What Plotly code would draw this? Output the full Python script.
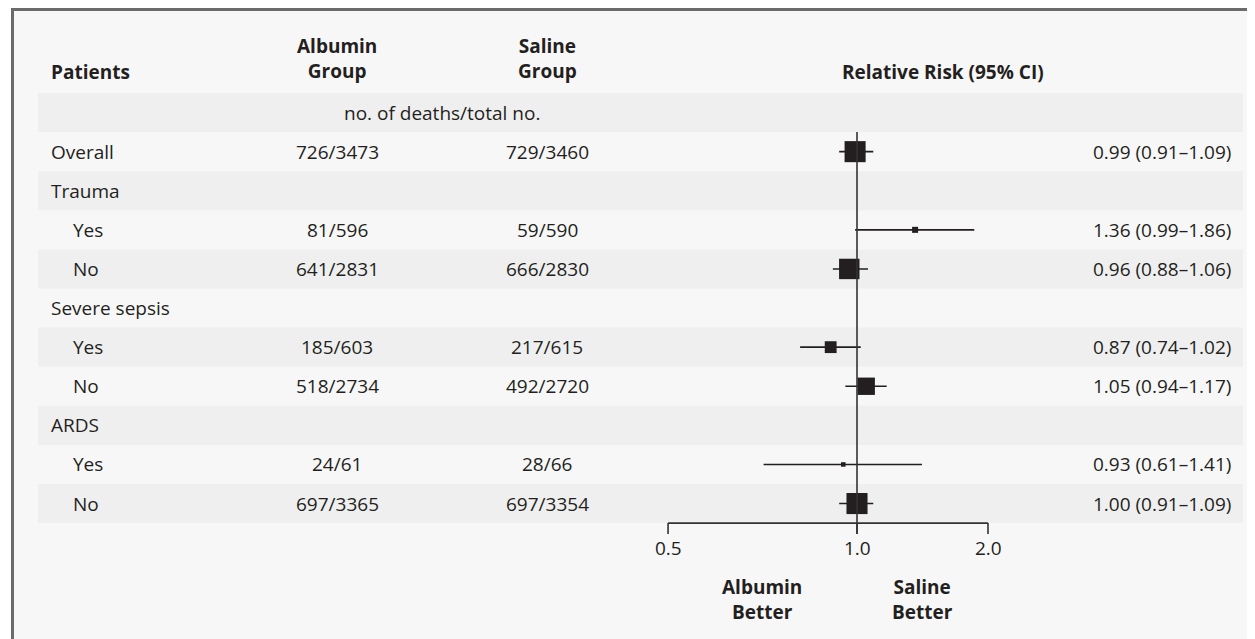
import numpy as np
import plotly.graph_objects as go

# ---------------- data ----------------
row_labels = ["Overall", "Trauma", "Yes", "No", "Severe sepsis", "Yes", "No", "ARDS", "Yes", "No"]
row_is_sub = [False, False, True, True, False, True, True, False, True, True]
albumin_deaths = ["726/3473", "", "81/596", "641/2831", "", "185/603", "518/2734", "", "24/61", "697/3365"]
saline_deaths = ["729/3460", "", "59/590", "666/2830", "", "217/615", "492/2720", "", "28/66", "697/3354"]
rel_risk = [0.99, None, 1.36, 0.96, None, 0.87, 1.05, None, 0.93, 1.00]
ci_low = [0.91, None, 0.99, 0.88, None, 0.74, 0.94, None, 0.61, 0.91]
ci_high = [1.09, None, 1.86, 1.06, None, 1.02, 1.17, None, 1.41, 1.09]
# axis ticks as drawn in the source figure (left end of the printed axis is labelled 0.5)
tick_values = [0.368, 1.0, 2.0]
tick_labels = ["0.5", "1.0", "2.0"]

# ---------------- layout constants ----------------
OFF = 8                      # page body margin (px)
W, H = 1255 - OFF, 639 - OFF # figure size so that it fits the window
ROW_TOP = 93.0               # page px of top of first shaded row
ROW_H = 39.1                 # px per row
PX_PER_LN = 189.0            # px per natural-log unit on the RR axis
X_ONE = 857.0                # page px of RR = 1
TXT = "#231f20"
FONT = "Open Sans"
FS = 19

def py(px):
    """page pixel row -> y data units (row index)"""
    return (px - ROW_TOP) / ROW_H - 0.5

def pxx(px):
    """page pixel column -> paper x"""
    return (px - OFF) / W

ln10 = np.log(10)
x_range = [-(X_ONE - OFF) / (PX_PER_LN * ln10), (W - (X_ONE - OFF)) / (PX_PER_LN * ln10)]
y_range = [py(OFF + H), py(OFF)]

fig = go.Figure()

# forest plot points
rows, xs, lo_e, hi_e, sizes = [], [], [], [], []
for i, (r, lo, hi) in enumerate(zip(rel_risk, ci_low, ci_high)):
    if r is None:
        continue
    rows.append(i + 1)
    xs.append(r)
    lo_e.append(r - lo)
    hi_e.append(hi - r)
    sizes.append(3.8 / np.log(hi / lo))

fig.add_trace(go.Scatter(
    x=xs, y=rows, mode="markers",
    marker=dict(symbol="square", size=sizes, color=TXT, opacity=1, line=dict(width=0)),
    error_x=dict(type="data", symmetric=False, array=hi_e, arrayminus=lo_e,
                 color=TXT, thickness=1.6, width=0),
    hoverinfo="skip", showlegend=False,
))

shapes = []
# frame
shapes.append(dict(type="rect", xref="paper", yref="paper",
                   x0=pxx(12.5), x1=1.05, y0=-0.05, y1=1 - 1.5 / H,
                   line=dict(color="#6b6b6b", width=3), fillcolor="#f7f7f7", layer="below"))
# shaded bands
n_rows = len(row_labels) + 1
for i in range(0, n_rows, 2):
    shapes.append(dict(type="rect", xref="paper", yref="y",
                       x0=pxx(38), x1=pxx(1243), y0=i - 0.5, y1=i + 0.5,
                       line=dict(width=0), fillcolor="#efefef", layer="below"))
# reference line at RR = 1
tick_len = 11.0 / ROW_H
axis_y = n_rows - 0.5
shapes.append(dict(type="line", xref="x", yref="y", x0=1.0, x1=1.0, y0=0.5, y1=axis_y + tick_len,
                   line=dict(color="#333333", width=1.6)))
# axis line and ticks
shapes.append(dict(type="line", xref="x", yref="y", x0=tick_values[0], x1=tick_values[-1],
                   y0=axis_y, y1=axis_y, line=dict(color="#333333", width=1.6)))
for tv in tick_values:
    shapes.append(dict(type="line", xref="x", yref="y", x0=tv, x1=tv,
                       y0=axis_y, y1=axis_y + tick_len, line=dict(color="#333333", width=1.6)))

ann = []
def add(text, x, y, xanchor="center", xref="paper", bold=False, size=FS):
    ann.append(dict(text=f"<b>{text}</b>" if bold else text, x=x, y=y, xref=xref, yref="y",
                    xanchor=xanchor, yanchor="middle", showarrow=False,
                    font=dict(family=FONT, size=size, color=TXT)))

# headers
add("Patients", pxx(49), py(72), xanchor="left", bold=True)
add("<b>Albumin</b><br><b>Group</b>", pxx(337), py(58.5))
add("<b>Saline</b><br><b>Group</b>", pxx(547), py(58.5))
add("Relative Risk (95% CI)", pxx(943), py(72), bold=True)
add("no. of deaths/total no.", pxx(442), 0)

# table rows
for i, lab in enumerate(row_labels):
    y = i + 1
    add(lab, pxx(71 if row_is_sub[i] else 49), y, xanchor="left")
    if albumin_deaths[i]:
        add(albumin_deaths[i], pxx(337), y)
    if saline_deaths[i]:
        add(saline_deaths[i], pxx(547), y)
    if rel_risk[i] is not None:
        add(f"{rel_risk[i]:.2f} ({ci_low[i]:.2f}\u2013{ci_high[i]:.2f})", pxx(1233), y, xanchor="right")

# tick labels (annotation x on a log axis is given in log10 units)
for tv, tl in zip(tick_values, tick_labels):
    add(tl, np.log10(tv), py(548), xref="x")

# direction labels
add("<b>Albumin</b><br><b>Better</b>", pxx(762), py(599))
add("<b>Saline</b><br><b>Better</b>", pxx(923), py(599))

fig.update_layout(
    width=W, height=H, autosize=False,
    margin=dict(l=0, r=0, t=0, b=0, pad=0),
    paper_bgcolor="white", plot_bgcolor="white",
    xaxis=dict(type="log", range=x_range, visible=False, showgrid=False, zeroline=False, fixedrange=True),
    yaxis=dict(range=y_range, autorange=False, visible=False, showgrid=False, zeroline=False, fixedrange=True),
    shapes=shapes, annotations=ann, showlegend=False,
)

fig.write_html("out.html")
